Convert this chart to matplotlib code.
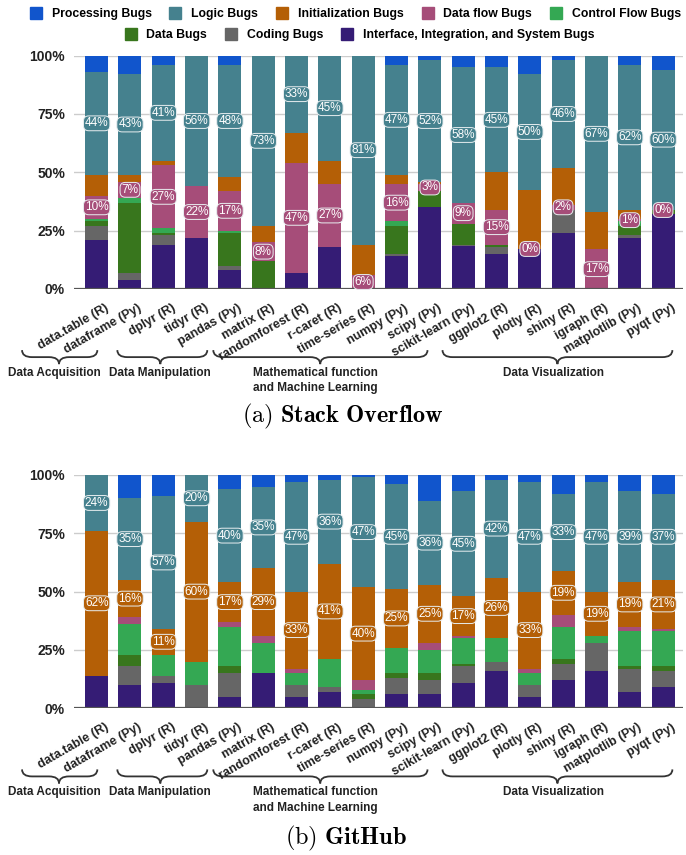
import numpy as np
import matplotlib
matplotlib.use('Agg')
import matplotlib.pyplot as plt
from matplotlib.lines import Line2D
from matplotlib.path import Path
from matplotlib.patches import PathPatch
import matplotlib.transforms as mtransforms

libraries = ['data.table (R)', 'dataframe (Py)', 'dplyr (R)', 'tidyr (R)', 'pandas (Py)',
             'matrix (R)', 'randomforest (R)', 'r-caret (R)', 'time-series (R)', 'numpy (Py)',
             'scipy (Py)', 'scikit-learn (Py)', 'ggplot2 (R)', 'plotly (R)', 'shiny (R)',
             'igraph (R)', 'matplotlib (Py)', 'pyqt (Py)']

# stacking order, bottom -> top
categories = ['Interface, Integration, and System Bugs', 'Coding Bugs', 'Data Bugs',
              'Control Flow Bugs', 'Data flow Bugs', 'Initialization Bugs', 'Logic Bugs',
              'Processing Bugs']
colors = ['#351c75', '#666666', '#38761d', '#34a853', '#a64d79', '#b45f06', '#45818e', '#1155cc']

# (a) Stack Overflow, percent of bugs
so_interface = [21, 4, 19, 22, 8, 0, 7, 18, 0, 14, 35, 18.5, 15, 17, 24, 0, 22, 32]
so_coding = [6, 3, 4, 0, 2, 0, 0, 0, 0, 1, 0, 0.5, 3, 0, 10, 0, 1, 0]
so_data = [2, 30, 1, 0, 14, 12, 0, 0, 0, 12, 7, 9, 1, 0, 0, 0, 4, 1.7]
so_control = [1, 2, 2, 0, 1, 0, 0, 0, 0, 2, 0, 0, 0, 0, 0, 0, 2, 0]
so_dataflow = [10, 7, 27, 22, 17, 8, 47, 27, 6, 16, 3, 9, 15, 0.3, 2, 17, 1, 0.3]
so_init = [9, 3, 2, 0, 6, 7, 13, 10, 13, 4, 1, 0, 16, 25, 16, 16, 4, 0]
so_logic = [44, 43, 41, 56, 48, 73, 33, 45, 81, 47, 52, 58, 45, 50, 46, 67, 62, 60]
so_proc = [7, 8, 4, 0, 4, 0, 0, 0, 0, 4, 2, 5, 5, 7.7, 2, 0, 4, 6]

# (b) GitHub, percent of bugs
gh_interface = [14, 10, 11, 0, 5, 15, 5, 7, 0, 6, 6, 11, 16, 5, 12, 16, 7, 9]
gh_coding = [0, 8, 3, 10, 10, 0, 5, 2, 4, 7, 6, 7, 4, 5, 7, 12, 10, 7]
gh_data = [0, 5, 0, 0, 3, 0, 0, 0, 2, 2, 3, 1, 0, 0, 2, 0, 1, 2]
gh_control = [0, 13, 9, 10, 17, 13, 5, 12, 2, 11, 10, 11, 10, 5, 14, 3, 15, 15]
gh_dataflow = [0, 3, 0, 0, 2, 3, 2, 0, 4, 0, 3, 1, 0, 2, 5, 0, 2, 1]
gh_init = [62, 16, 11, 60, 17, 29, 33, 41, 40, 25, 25, 17, 26, 33, 19, 19, 19, 21]
gh_logic = [24, 35, 57, 20, 40, 35, 47, 36, 47, 45, 36, 45, 42, 47, 33, 47, 39, 37]
gh_proc = [0, 10, 9, 0, 6, 5, 3, 2, 1, 4, 11, 7, 2, 3, 8, 3, 7, 8]

groups = ['Data Acquisition', 'Data Manipulation',
          'Mathematical function\nand Machine Learning', 'Data Visualization']

SANS = ['Liberation Sans', 'DejaVu Sans']
plt.rcParams['mathtext.fontset'] = 'cm'

# brace geometry in bar units: (start, tip, end, label x)
brace_spans = [(-2.24, -1.13, 0.02, -1.26), (0.62, 1.91, 3.32, 1.91),
               (3.5, 6.71, 9.93, 6.56), (10.38, 13.83, 17.28, 13.7)]


def draw_brace(ax, x0, xm, x1):
    trans = mtransforms.blended_transform_factory(ax.transData, ax.transAxes)
    yt, ym, yb = -0.262, -0.292, -0.322
    r = 0.3
    verts = [(x0, yt), (x0, ym), (x0 + r, ym),
             (xm - r, ym), (xm, ym), (xm, yb),
             (xm, ym), (xm + r, ym),
             (x1 - r, ym), (x1, ym), (x1, yt)]
    codes = [Path.MOVETO, Path.CURVE3, Path.CURVE3,
             Path.LINETO, Path.CURVE3, Path.CURVE3,
             Path.CURVE3, Path.CURVE3,
             Path.LINETO, Path.CURVE3, Path.CURVE3]
    ax.add_patch(PathPatch(Path(verts, codes), fill=False, ec='#333333', lw=1.3,
                           transform=trans, clip_on=False))


def plot_stack(ax, series, labelled):
    x = np.arange(len(libraries))
    bottom = np.zeros(len(libraries))
    for k, vals in enumerate(series):
        vals = np.array(vals, dtype=float)
        ax.bar(x, vals, 0.69, bottom=bottom, color=colors[k], zorder=2)
        if k in labelled:
            for i, v in enumerate(vals):
                ax.text(x[i], bottom[i] + v / 2, '%d%%' % round(v), ha='center', va='center',
                        color='white', fontsize=8.5, family=SANS, zorder=4,
                        bbox=dict(boxstyle='round,pad=0.12,rounding_size=0.45',
                                  fc=colors[k], ec='#e8eef0', lw=0.7))
        bottom += vals

    ax.set_xlim(-0.68, 17.6)
    ax.set_ylim(0, 100)
    ax.set_yticks([0, 25, 50, 75, 100])
    ax.set_yticklabels(['0%', '25%', '50%', '75%', '100%'], fontsize=10,
                       fontweight='bold', family=SANS, color='#222222')
    ax.tick_params(axis='y', length=0, pad=6.5)
    ax.tick_params(axis='x', length=0, labelbottom=False)
    ax.grid(axis='y', color='#cccccc', lw=1, zorder=0)
    ax.axhline(0, color='#555555', lw=1.6, zorder=3)
    for s in ax.spines.values():
        s.set_visible(False)

    # rotated library names
    for i, name in enumerate(libraries):
        ax.annotate(name, (i, 0), xytext=(8, -13), textcoords='offset pixels',
                    ha='right', va='top', rotation=30, rotation_mode='anchor',
                    fontsize=9, fontweight='bold', family=SANS, color='#222222',
                    annotation_clip=False)

    # group braces and names
    for (x0, xm, x1, xl), g in zip(brace_spans, groups):
        draw_brace(ax, x0, xm, x1)
        ax.text(xl, -0.335, g, transform=mtransforms.blended_transform_factory(ax.transData, ax.transAxes),
                ha='center', va='top', fontsize=8.5, fontweight='bold', family=SANS,
                color='#222222', linespacing=1.35)


fig = plt.figure(figsize=(6.86, 8.55), dpi=100)
ax1 = fig.add_axes([0.1079, 0.662, 0.8878, 0.2729])
ax2 = fig.add_axes([0.1079, 0.1716, 0.8878, 0.2729])

plot_stack(ax1, [so_interface, so_coding, so_data, so_control, so_dataflow, so_init, so_logic, so_proc],
           labelled=[4, 6])
plot_stack(ax2, [gh_interface, gh_coding, gh_data, gh_control, gh_dataflow, gh_init, gh_logic, gh_proc],
           labelled=[5, 6])

# legend in two centered rows
def handle(c):
    return Line2D([], [], ls='none', marker='s', markersize=8.5, markerfacecolor=c, markeredgecolor=c)

row1 = [7, 6, 5, 4, 3]
row2 = [2, 1, 0]
leg_kw = dict(frameon=False, handlelength=1.0, handletextpad=0.8, columnspacing=1.45,
              prop={'family': SANS, 'size': 8.8, 'weight': 'bold'}, loc='center')
leg1 = fig.legend([handle(colors[k]) for k in row1], [categories[k] for k in row1],
                  ncol=5, bbox_to_anchor=(0.518, 1 - 14 / 855), **leg_kw)
leg2 = fig.legend([handle(colors[k]) for k in row2], [categories[k] for k in row2],
                  ncol=3, bbox_to_anchor=(0.524, 1 - 35 / 855), **leg_kw)

fig.text(0.5, 1 - 416 / 855, r'$\mathrm{(a)}\ \mathbf{Stack\ Overflow}$', ha='center', va='center', fontsize=17.5)
fig.text(0.505, 1 - 838 / 855, r'$\mathrm{(b)}\ \mathbf{GitHub}$', ha='center', va='center', fontsize=17.5)

fig.savefig('out.png', dpi=100, facecolor='white')
